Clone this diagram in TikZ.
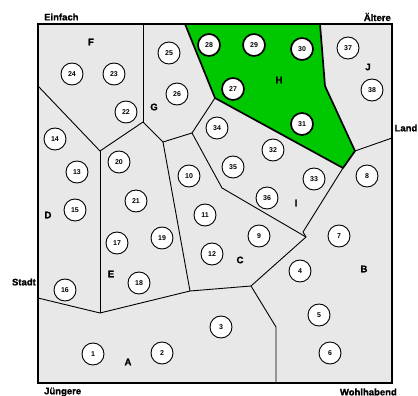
\documentclass[tikz,border=0pt]{standalone}
\usepackage{fontspec}
\setmainfont{Liberation Sans}
\newfontfamily\heavyfont[FakeBold=1.2]{Liberation Sans Bold}
\begin{document}
\begin{tikzpicture}[x=1pt,y=-1pt,
  edge/.style={line width=0.9pt,line join=round},
  num/.style={circle,draw,fill=white,line width=0.9pt,minimum size=22pt,inner sep=0pt,font=\bfseries\fontsize{7}{8}\selectfont},
  hnum/.style={num,line width=1.7pt},
  reg/.style={font=\heavyfont\fontsize{9.5}{10}\selectfont,inner sep=0pt},
  axis/.style={font=\heavyfont\fontsize{9.5}{10}\selectfont,inner sep=0pt}]
\definecolor{regfill}{RGB}{232,232,232}
\definecolor{hgreen}{RGB}{0,200,0}
\useasboundingbox (0,0) rectangle (418,396);
% vertices
\coordinate (TL) at (38,24); \coordinate (TR) at (392,24);
\coordinate (BR) at (392,383); \coordinate (BL) at (38,383);
\coordinate (fg) at (143,24); \coordinate (gh) at (185,24); \coordinate (hj) at (320,24);
\coordinate (p1) at (143,122); \coordinate (p2) at (100,151); \coordinate (fd) at (38,86);
\coordinate (p3) at (100,313); \coordinate (da) at (38,298);
\coordinate (p4) at (163,142); \coordinate (p5) at (192,133); \coordinate (p6) at (190,291);
\coordinate (p7) at (215,98); \coordinate (p8) at (222,188); \coordinate (p9) at (306,237);
\coordinate (p9b) at (303,232); \coordinate (p10) at (251,286); \coordinate (p11) at (343,168);
\coordinate (p12) at (355,151); \coordinate (p13) at (392,138); \coordinate (p14) at (325,86);
\coordinate (p15) at (276,327); \coordinate (ab) at (276,383);
% background
\fill[regfill] (TL) rectangle (BR);
% inner edges
\draw[edge] (fg) -- (p1);
\draw[edge] (fd) -- (p2) -- (p1);
\draw[edge] (p2) -- (p3);
\draw[edge] (da) -- (p3) -- (p6) -- (p10);
\draw[edge] (p1) -- (p4) -- (p5);
\draw[edge] (p4) -- (p6);
\draw[edge] (p5) -- (p7);
\draw[edge] (p5) -- (p8) -- (p9);
\draw[edge] (p9) -- (p10) -- (p15) -- (ab);
\draw[edge] (p9) -- (p9b) -- (p11);
\draw[edge] (p12) -- (p13);
% region H
\filldraw[fill=hgreen,draw=black,line width=1.7pt,line join=round] (gh) -- (hj) -- (p14) -- (p12) -- (p11) -- (p7) -- cycle;
% frame
\draw[line width=1.3pt] (TL) rectangle (BR);
% circles
\node[num] (c1) at (93,354) {1};
\node[num] (c2) at (162,353) {2};
\node[num] (c3) at (221,327) {3};
\node[num] (c4) at (300,271) {4};
\node[num] (c5) at (319,315) {5};
\node[num] (c6) at (330,353) {6};
\node[num] (c7) at (339,236) {7};
\node[num] (c8) at (367,176) {8};
\node[num] (c9) at (259,236) {9};
\node[num] (c10) at (189,176) {10};
\node[num] (c11) at (205,215) {11};
\node[num] (c12) at (212,254) {12};
\node[num] (c13) at (77,172) {13};
\node[num] (c14) at (55,139) {14};
\node[num] (c15) at (75,210) {15};
\node[num] (c16) at (65,290) {16};
\node[num] (c17) at (117,243) {17};
\node[num] (c18) at (139,283) {18};
\node[num] (c19) at (162,238) {19};
\node[num] (c20) at (119,162) {20};
\node[num] (c21) at (136,201) {21};
\node[num] (c22) at (126,112) {22};
\node[num] (c23) at (114,74) {23};
\node[num] (c24) at (72,74) {24};
\node[num] (c25) at (169,53) {25};
\node[num] (c26) at (177,94) {26};
\node[hnum] (c27) at (233,89) {27};
\node[hnum] (c28) at (209,45) {28};
\node[hnum] (c29) at (254,45) {29};
\node[hnum] (c30) at (302,49) {30};
\node[hnum] (c31) at (302,124) {31};
\node[num] (c32) at (273,150) {32};
\node[num] (c33) at (314,179) {33};
\node[num] (c34) at (217,128) {34};
\node[num] (c35) at (233,167) {35};
\node[num] (c36) at (267,198) {36};
\node[num] (c37) at (348,48) {37};
\node[num] (c38) at (372,90) {38};
% region labels
\node[reg] (lA) at (128,362) {A};
\node[reg] (lB) at (364,269) {B};
\node[reg] (lC) at (240,260) {C};
\node[reg] (lD) at (48,215) {D};
\node[reg] (lE) at (111,274) {E};
\node[reg] (lF) at (91,42) {F};
\node[reg] (lG) at (154,107) {G};
\node[reg] (lH) at (279,80) {H};
\node[reg] (lI) at (296,203) {I};
\node[reg] (lJ) at (368,67) {J};
% axis labels
\node[axis,anchor=west] (einfach) at (44,17) {Einfach};
\node[axis,anchor=east] (aeltere) at (391,17) {Ältere};
\node[axis,anchor=east] (land) at (417.5,128) {Land};
\node[axis,anchor=east] (stadt) at (36,282) {Stadt};
\node[axis,anchor=west] (juengere) at (44,392) {Jüngere};
\node[axis,anchor=east] (wohlhabend) at (397,392) {Wohlhabend};
\end{tikzpicture}
\end{document}
